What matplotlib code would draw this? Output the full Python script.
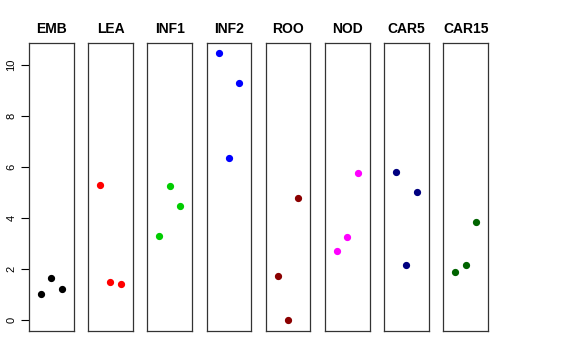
import matplotlib
matplotlib.use("Agg")
import matplotlib.pyplot as plt

plt.rcParams["font.family"] = ["Liberation Sans", "DejaVu Sans"]

panels = ["EMB", "LEA", "INF1", "INF2", "ROO", "NOD", "CAR5", "CAR15"]
colors = ["#000000", "#FF0000", "#00CD00", "#0000FF", "#8B0000", "#FF00FF", "#000080", "#006400"]
x_pos = [1, 2, 3]
emb = [1.03, 1.66, 1.21]
lea = [5.31, 1.51, 1.43]
inf1 = [3.29, 5.26, 4.47]
inf2 = [10.45, 6.35, 9.31]
roo = [1.74, 0.0, 4.79]
nod = [2.70, 3.28, 5.77]
car5 = [5.80, 2.15, 5.01]
car15 = [1.88, 2.17, 3.86]
values = [emb, lea, inf1, inf2, roo, nod, car5, car15]
yticks = [0, 2, 4, 6, 8, 10]

W, H = 576, 360
fig = plt.figure(figsize=(W / 100, H / 100), dpi=100)
left0, step, pw = 29, 59.2, 44.5
bottom, top = 331, 43
ymin, ymax = -0.42, 10.86

for i, (name, col, vals) in enumerate(zip(panels, colors, values)):
    x0 = left0 + i * step
    ax = fig.add_axes([x0 / W, 1 - bottom / H, pw / W, (bottom - top) / H])
    ax.plot(x_pos, vals, "o", color=col, ms=4.2, mec=col)
    ax.set_xlim(-0.16, 4.16)
    ax.set_ylim(ymin, ymax)
    ax.set_xticks([])
    for s in ax.spines.values():
        s.set_color("#333333")
        s.set_linewidth(0.9)
    ax.set_title(name, fontsize=10, fontweight="bold", pad=7)
    if i == 0:
        ax.set_yticks(yticks)
        ax.set_yticklabels([str(t) for t in yticks], rotation=90, va="center", fontsize=8)
        ax.tick_params(axis="y", length=6, width=0.8, pad=3)
    else:
        ax.set_yticks([])

fig.savefig("out.png", dpi=100)
